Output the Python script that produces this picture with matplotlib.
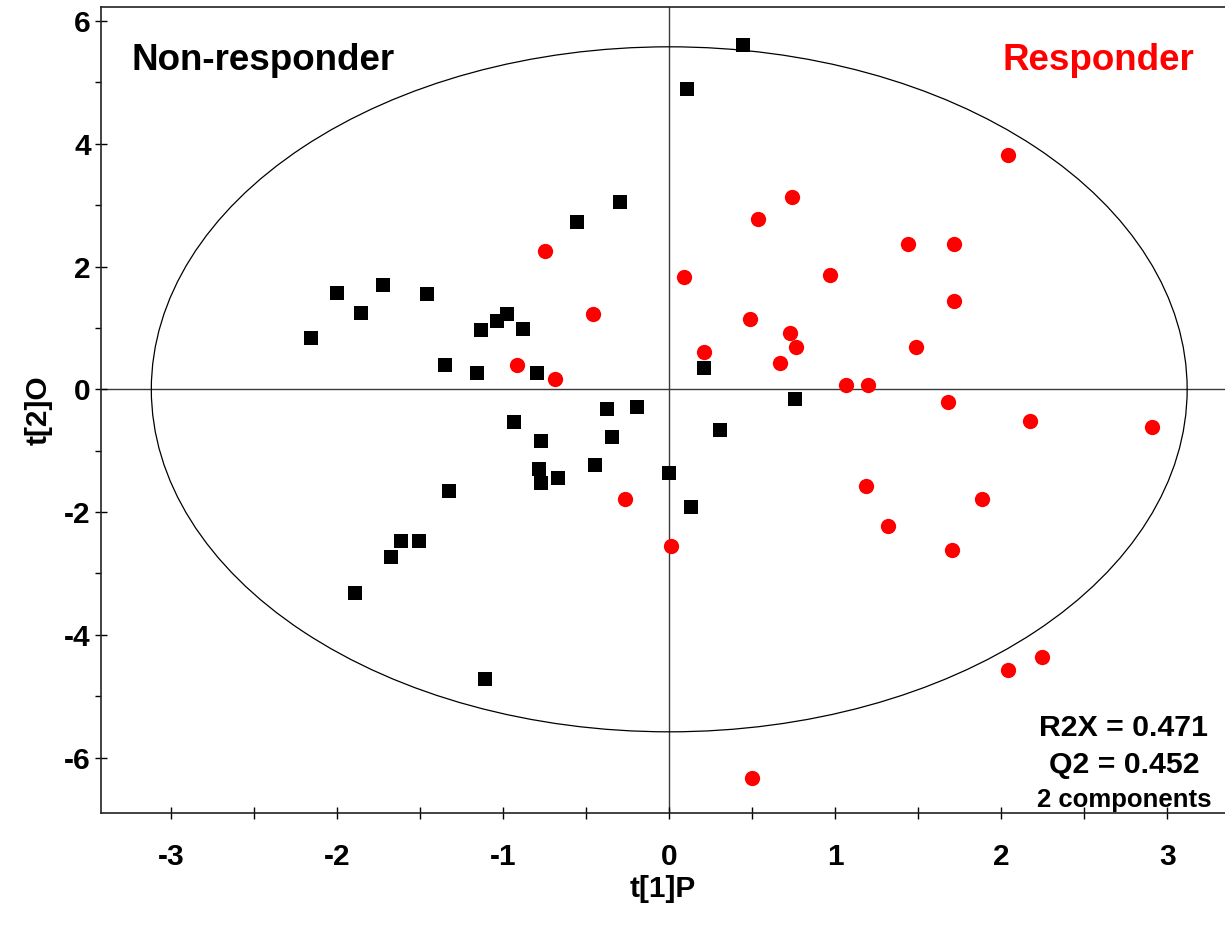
import matplotlib
matplotlib.use("Agg")
import matplotlib.pyplot as plt
from matplotlib.patches import Ellipse
from matplotlib.ticker import MultipleLocator

plt.rcParams['font.family'] = ['Liberation Sans', 'DejaVu Sans']
plt.rcParams['font.weight'] = 'bold'

# Non-responder scores (black squares)
nonresp_t1 = [0.445, 0.107, -0.295, -0.556, -2.0, -1.723, -1.46, -1.857, -2.158,
              -1.134, -1.038, -0.978, -0.881, -1.351, -1.158, -0.797, -0.375, -0.195,
              -0.937, -0.343, -0.773, -0.448, -0.785, -0.773, -0.669, -1.327, 0.0,
              0.131, -1.616, -1.508, -1.675, -1.893, -1.110, 0.757, 0.307, 0.211]
nonresp_t2 = [5.61, 4.89, 3.05, 2.72, 1.57, 1.70, 1.55, 1.24, 0.83,
              0.96, 1.11, 1.22, 0.98, 0.40, 0.27, 0.27, -0.32, -0.28,
              -0.54, -0.78, -0.84, -1.23, -1.30, -1.52, -1.45, -1.65, -1.36,
              -1.91, -2.47, -2.47, -2.73, -3.32, -4.72, -0.15, -0.67, 0.34]

# Responder scores (red circles)
resp_t1 = [0.741, 0.536, -0.749, 2.040, 1.438, 1.715, 0.090, 0.970, 1.715, 0.488,
           0.729, 0.765, 1.486, 0.211, 0.669, 1.066, 1.199, -0.462, -0.919, -0.690,
           -0.269, 0.008, 1.187, 1.319, 1.679, 1.703, 2.173, 2.908, 1.886, 2.243,
           2.040, 0.500]
resp_t2 = [3.14, 2.78, 2.26, 3.82, 2.36, 2.36, 1.83, 1.87, 1.44, 1.15,
           0.92, 0.69, 0.69, 0.60, 0.43, 0.075, 0.075, 1.22, 0.40, 0.17,
           -1.78, -2.56, -1.58, -2.23, -0.21, -2.62, -0.51, -0.61, -1.78, -4.36,
           -4.58, -6.34]

# Hotelling T2 ellipse semi-axes
ell_a = 3.12
ell_b = 5.58

x_ticks = [-3, -2, -1, 0, 1, 2, 3]
y_ticks = [-6, -4, -2, 0, 2, 4, 6]

fig = plt.figure(figsize=(12.25, 9.26), dpi=100)
ax = fig.add_axes([0.0822, 0.122, 0.9178, 0.8704])

ax.set_xlim(-3.425, 3.348)
ax.set_ylim(-6.903, 6.228)

ax.axhline(0, color='#3a3a3a', lw=1.0, zorder=1)
ax.axvline(0, color='#3a3a3a', lw=1.0, zorder=1)
ax.add_patch(Ellipse((0, 0), 2 * ell_a, 2 * ell_b, fill=False, ec='black', lw=0.9, zorder=1))

ax.plot(nonresp_t1, nonresp_t2, 's', color='black', markersize=10.2, markeredgewidth=0, zorder=3)
ax.plot(resp_t1, resp_t2, 'o', color='#ff0000', markersize=11, markeredgewidth=0, zorder=3)

ax.xaxis.set_major_locator(MultipleLocator(1))
ax.xaxis.set_minor_locator(MultipleLocator(0.5))
ax.yaxis.set_major_locator(MultipleLocator(2))
ax.yaxis.set_minor_locator(MultipleLocator(1))
ax.set_xticks(x_ticks)
ax.set_yticks(y_ticks)
ax.set_xticklabels([str(v) for v in x_ticks])
ax.set_yticklabels([str(v) for v in y_ticks])

ax.tick_params(axis='x', which='both', direction='inout', length=9, width=1, pad=17, labelsize=21.5)
ax.tick_params(axis='y', which='major', direction='inout', length=8, width=1, pad=3, labelsize=21.5)
ax.tick_params(axis='y', which='minor', direction='out', length=4, width=1)
for lab in ax.get_xticklabels() + ax.get_yticklabels():
    lab.set_fontweight('bold')

ax.spines['right'].set_visible(False)
for s in ['left', 'bottom', 'top']:
    ax.spines[s].set_linewidth(1.2)
    ax.spines[s].set_color('#222222')

ax.set_xlabel('t[1]P', fontsize=21.5, fontweight='bold', labelpad=3)
ax.set_ylabel('t[2]O', fontsize=21.5, fontweight='bold', labelpad=8)

ax.text(-3.239, 5.20, 'Non-responder', fontsize=26.5, fontweight='bold', color='black',
        ha='left', va='baseline')
ax.text(3.161, 5.20, 'Responder', fontsize=26.5, fontweight='bold', color='#ff0000',
        ha='right', va='baseline')

ax.text(2.739, -5.643, 'R2X = 0.471', fontsize=21.8, fontweight='bold', ha='center', va='baseline')
ax.text(2.739, -6.251, 'Q2 = 0.452', fontsize=21.8, fontweight='bold', ha='center', va='baseline')
ax.text(2.739, -6.80, '2 components', fontsize=18.5, fontweight='bold', ha='center', va='baseline')

fig.savefig('out.png', dpi=100)
